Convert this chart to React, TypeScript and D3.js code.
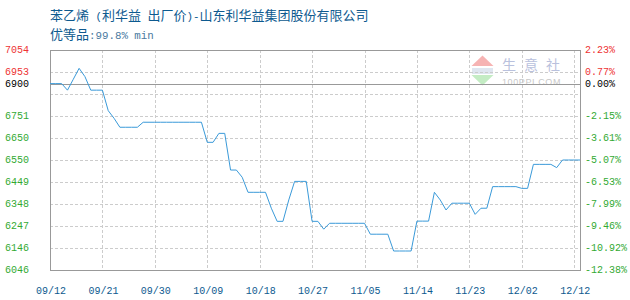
import React from 'react';
import * as d3 from 'd3';

// ---- data ----
const dateLabels = ['09/12', '09/21', '09/30', '10/09', '10/18', '10/27', '11/05', '11/14', '11/23', '12/02', '12/12'];
const dateLabelIndex = [0, 9, 18, 27, 36, 45, 54, 63, 72, 81, 90];

const prices = [
  6900, 6900, 6900, 6870, 6920, 6970, 6932, 6870, 6870, 6870,
  6776, 6741, 6700, 6700, 6700, 6700, 6723, 6723, 6723, 6723,
  6723, 6723, 6723, 6723, 6723, 6723, 6723, 6631, 6631, 6672,
  6672, 6504, 6504, 6471, 6402, 6402, 6402, 6402, 6329, 6269,
  6269, 6367, 6452, 6452, 6452, 6269, 6269, 6233, 6260, 6260,
  6260, 6260, 6260, 6260, 6260, 6210, 6210, 6210, 6210, 6133,
  6133, 6133, 6133, 6270, 6270, 6270, 6402, 6367, 6321, 6352,
  6352, 6352, 6352, 6301, 6329, 6329, 6428, 6428, 6428, 6428,
  6428, 6420, 6420, 6530, 6530, 6530, 6530, 6515, 6550, 6550,
  6550, 6550,
];

const baseValue = 6900;
const gridValues = [7054, 6953.2, 6852.4, 6751.6, 6650.8, 6550, 6449.2, 6348.4, 6247.6, 6146.8, 6046];
const leftTickValues = [7054, 6953.2, 6900, 6751.6, 6650.8, 6550, 6449.2, 6348.4, 6247.6, 6146.8, 6046];
const leftTickLabels = ['7054', '6953', '6900', '6751', '6650', '6550', '6449', '6348', '6247', '6146', '6046'];
const rightTickLabels = ['2.23%', '0.77%', '0.00%', '-2.15%', '-3.61%', '-5.07%', '-6.53%', '-7.99%', '-9.46%', '-10.92%', '-12.38%'];

const titleParts: [string, boolean][] = [
  ['苯乙烯', true], [' (', false], ['利华益', true], [' ', false], ['出厂价', true], [')-', false], ['山东利华益集团股份有限公司', true],
];
const subtitleParts: [string, boolean][] = [['优等品', true], [':99.8% min', false]];

// ---- layout ----
const W = 630, H = 300;
const L = 50, R = 580, T = 50, B = 270;
const CJK = '"Noto Sans CJK SC", sans-serif';
const MONO = '"Liberation Mono", "DejaVu Sans Mono", monospace';
const BLUE = '#0d5a8f';
const RED = '#ee3333';
const GREEN = '#33aa33';

export default function App() {
  const x = d3.scaleLinear().domain([0, prices.length - 1]).range([L, R]);
  const y = d3.scaleLinear().domain([6046, 7054]).range([B, T]);
  const line = d3.line<number>().x((_, i) => x(i)).y((d) => y(d));

  const colorFor = (v: number) => (Math.abs(v - baseValue) < 0.01 ? '#000' : v > baseValue ? RED : GREEN);
  const px = (v: number) => Math.round(v) + 0.5;

  return (
    <svg width={W} height={H} style={{ position: 'absolute', left: 0, top: 0, background: '#fff' }}>
      {/* title */}
      <text x={50} y={20} fill={BLUE} fontSize={13}>
        {titleParts.map(([t, cjk], i) => (
          <tspan key={i} fontFamily={cjk ? CJK : MONO} fontSize={cjk ? 13 : 10.8} style={{ whiteSpace: 'pre' }}>{t}</tspan>
        ))}
      </text>
      <text x={50} y={39} fill={BLUE} fontSize={13}>
        {subtitleParts.map(([t, cjk], i) => (
          <tspan key={i} fontFamily={cjk ? CJK : MONO} fontSize={cjk ? 13 : 10.8} fill={cjk ? BLUE : '#4a7aa0'} style={{ whiteSpace: 'pre' }}>{t}</tspan>
        ))}
      </text>

      {/* watermark */}
      <g>
        <polygon points="471.5,66 482.5,55.5 493.5,66" fill="#f6b3b3" />
        <rect x={472} y={68} width={21} height={6} fill="#dfe6f0" />
        <polygon points="471.5,75 493.5,75 482.5,85.5" fill="#c4ecc4" />
        <text x={502} y={70} fontSize={14} fontFamily={CJK} fill="#b9c1dd" letterSpacing={8}>生意社</text>
        <text x={502} y={85} fontSize={9} fontFamily='"Liberation Sans", sans-serif' fill="#c8c8c8" letterSpacing={0.6}>100PPI.COM</text>
      </g>

      {/* horizontal grid */}
      {gridValues.map((v, i) => (
        <line key={'h' + i} x1={L} x2={R} y1={px(y(v))} y2={px(y(v))} stroke="#cccccc" strokeDasharray="3,2" shapeRendering="crispEdges" />
      ))}
      {/* vertical grid */}
      {dateLabelIndex.map((d, i) => (
        <line key={'v' + i} x1={px(x(d))} x2={px(x(d))} y1={T} y2={B} stroke="#cccccc" strokeDasharray="3,2" shapeRendering="crispEdges" />
      ))}

      {/* baseline */}
      <line x1={L} x2={R} y1={px(y(baseValue))} y2={px(y(baseValue))} stroke="#999" shapeRendering="crispEdges" />

      {/* frame */}
      <rect x={L + 0.5} y={T + 0.5} width={R - L} height={B - T} fill="none" stroke="#999" shapeRendering="crispEdges" />

      {/* price line */}
      <path d={line(prices) || ''} fill="none" stroke="#3a9ad9" strokeWidth={1} />

      {/* left axis labels */}
      {leftTickValues.map((v, i) => (
        <text key={'l' + i} x={5} y={y(v) + 3} fontSize={10} fontFamily={MONO} fill={colorFor(v)}>{leftTickLabels[i]}</text>
      ))}
      {/* right axis labels */}
      {leftTickValues.map((v, i) => (
        <text key={'r' + i} x={585} y={y(v) + 3} fontSize={10} fontFamily={MONO} fill={colorFor(v)}>{rightTickLabels[i]}</text>
      ))}

      {/* x labels */}
      {dateLabelIndex.map((d, i) => (
        <text key={'x' + i} x={x(d) + 1} y={294} textAnchor="middle" fontSize={10} fontFamily={MONO} fill={BLUE}>{dateLabels[i]}</text>
      ))}
    </svg>
  );
}
